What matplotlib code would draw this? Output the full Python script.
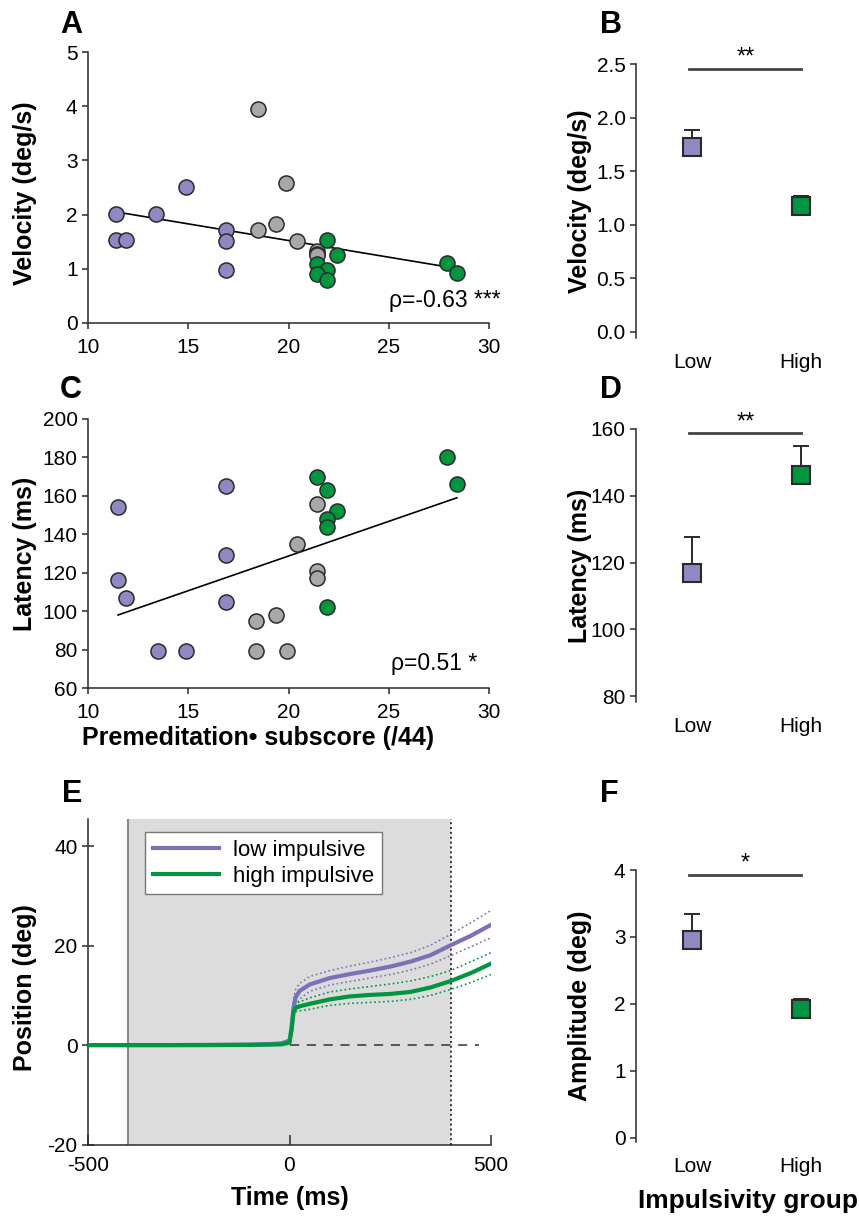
import numpy as np
import matplotlib
matplotlib.use("Agg")
import matplotlib.pyplot as plt

plt.rcParams['font.family'] = ['Liberation Sans', 'DejaVu Sans']
plt.rcParams['axes.unicode_minus'] = False

# colours
purple = '#8e88c3'
purple_line = '#7a72b8'
green = '#00963f'
grey = '#a8a8a8'
edge = '#2a2a2a'

## panel A / C scatter data (premeditation subscore vs velocity / latency)
vel_low_x = [11.4, 11.4, 11.9, 13.4, 14.9, 16.9, 16.9, 16.9]
vel_low_y = [2.02, 1.54, 1.53, 2.02, 2.51, 1.72, 1.51, 0.98]
vel_mid_x = [18.5, 19.9, 19.4, 18.5, 20.4, 21.4, 21.4, 21.4]
vel_mid_y = [3.94, 2.59, 1.83, 1.72, 1.51, 1.32, 1.27, 1.25]
vel_high_x = [21.9, 22.4, 21.4, 21.9, 21.4, 21.9, 27.9, 28.4]
vel_high_y = [1.53, 1.25, 1.08, 0.98, 0.91, 0.80, 1.10, 0.93]
vel_fit_x = [11.4, 28.0]
vel_fit_y = [2.05, 1.03]

lat_low_x = [11.5, 11.5, 11.9, 13.5, 14.9, 16.9, 16.9, 16.9]
lat_low_y = [154, 116, 107, 79, 79, 165, 129, 105]
lat_mid_x = [18.4, 18.4, 19.4, 19.95, 20.4, 21.4, 21.4, 21.4]
lat_mid_y = [95, 79, 98, 79, 135, 156, 121, 117]
lat_high_x = [21.4, 21.9, 22.4, 21.9, 21.9, 21.9, 27.9, 28.4]
lat_high_y = [170, 163, 152, 148, 144, 102, 180, 166]
lat_fit_x = [11.5, 28.4]
lat_fit_y = [98, 159]

## panel B / D / F group means (+ sem)
groups = ['Low', 'High']
vel_mean = [1.72, 1.17]
vel_sem = [0.16, 0.10]
lat_mean = [116.8, 146.1]
lat_sem = [10.9, 8.8]
amp_mean = [2.96, 1.92]
amp_sem = [0.39, 0.16]

## panel E position traces
t = [-500, -400, -300, -200, -100, -50, -20, 0, 5, 10, 15, 25, 50, 100,
     150, 200, 250, 300, 350, 400, 450, 500]
low_mean = [0, 0, 0, 0.05, 0.1, 0.2, 0.35, 0.9, 3.5, 7.5, 9.6, 10.9, 12.2,
            13.5, 14.3, 15.0, 15.8, 16.8, 18.1, 20.1, 22.0, 24.2]
low_upper = [0.1, 0.1, 0.1, 0.15, 0.2, 0.3, 0.45, 1.2, 4.5, 9.2, 11.2, 12.4,
             13.8, 15.0, 15.9, 16.7, 17.6, 18.6, 20.1, 22.3, 24.6, 27.1]
low_lower = [-0.1, -0.1, -0.1, -0.05, 0.0, 0.1, 0.2, 0.6, 2.5, 5.5, 7.8, 9.3,
             10.8, 12.1, 12.8, 13.5, 14.2, 15.1, 16.3, 18.0, 19.8, 21.6]
high_mean = [0, 0, 0, 0, 0.05, 0.1, 0.15, 0.5, 3.0, 6.6, 7.5, 7.8, 8.3, 9.2,
             9.8, 10.1, 10.3, 10.7, 11.6, 12.9, 14.5, 16.4]
high_upper = [0.1, 0.1, 0.1, 0.1, 0.15, 0.2, 0.25, 0.7, 3.8, 7.5, 8.3, 8.7,
              9.5, 10.7, 11.3, 11.8, 12.3, 12.9, 13.8, 15.0, 16.8, 18.6]
high_lower = [-0.1, -0.1, -0.1, -0.1, -0.05, 0.0, 0.05, 0.3, 2.2, 5.8, 6.7,
              6.9, 7.2, 8.0, 8.4, 8.6, 8.8, 9.2, 10.0, 11.2, 12.6, 14.2]

W, H = 859, 1216
fig = plt.figure(figsize=(W/100, H/100), dpi=100)

def px_axes(l, t_, r, b):
    return fig.add_axes([l/W, 1-b/H, (r-l)/W, (b-t_)/H])

tick_fs = 15
lab_fs = 18

def style(ax):
    for s in ['top', 'right']:
        ax.spines[s].set_visible(False)
    for s in ['left', 'bottom']:
        ax.spines[s].set_color(edge)
        ax.spines[s].set_linewidth(1.1)
    ax.tick_params(labelsize=tick_fs, width=1.1, length=4, color=edge)

# scatter panels
def scatter_panel(ax, lx, ly, mx, my, hx, hy, fx, fy):
    kw = dict(s=118, edgecolors=edge, linewidths=1.1, zorder=3)
    ax.plot(fx, fy, color='k', lw=1.2, zorder=2)
    ax.scatter(lx, ly, c=purple, **kw)
    ax.scatter(mx, my, c=grey, **kw)
    ax.scatter(hx, hy, c=green, **kw)
    ax.set_xlim(10, 30)
    ax.set_xticks([10, 15, 20, 25, 30])
    style(ax)
    ax.tick_params(axis='x', pad=7)

axA = px_axes(88, 52, 489, 323)
scatter_panel(axA, vel_low_x, vel_low_y, vel_mid_x, vel_mid_y,
              vel_high_x, vel_high_y, vel_fit_x, vel_fit_y)
axA.set_ylim(0, 5)
axA.set_yticks([0, 1, 2, 3, 4, 5])
axA.set_ylabel('Velocity (deg/s)', fontsize=lab_fs, fontweight='bold')
axA.yaxis.set_label_coords(-0.127, 0.48)
axA.text(1.03, 0.06, 'ρ=-0.63 ***', transform=axA.transAxes,
         ha='right', va='baseline', fontsize=16.5, clip_on=False)

axC = px_axes(88, 419, 489, 688)
scatter_panel(axC, lat_low_x, lat_low_y, lat_mid_x, lat_mid_y,
              lat_high_x, lat_high_y, lat_fit_x, lat_fit_y)
axC.set_ylim(60, 200)
axC.set_yticks(np.arange(60, 201, 20))
axC.set_ylabel('Latency (ms)', fontsize=lab_fs, fontweight='bold')
axC.yaxis.set_label_coords(-0.127, 0.5)
axC.set_xlabel('Premeditation• subscore (/44)', fontsize=lab_fs,
               fontweight='bold')
axC.xaxis.set_label_coords(0.424, -0.14)
axC.text(0.97, 0.067, 'ρ=0.51 *', transform=axC.transAxes,
         ha='right', va='baseline', fontsize=16.5)

# group panels
def group_panel(ax, mean, sem, ylim, yticks, fmt, sig_y, stars):
    x = [1, 2]
    ax.errorbar(x, mean, yerr=[[0, 0], sem], fmt='none', ecolor=edge,
                elinewidth=1.4, capsize=6, capthick=1.4, zorder=2)
    ax.plot(x[0], mean[0], 's', ms=12.5, mfc=purple, mec=edge, mew=1.5, zorder=3)
    ax.plot(x[1], mean[1], 's', ms=12.5, mfc=green, mec=edge, mew=1.5, zorder=3)
    ax.plot([0.97, 2.0], [sig_y, sig_y], color='#444444', lw=2, zorder=2)
    ax.text(1.49, sig_y, stars, ha='center', va='bottom', fontsize=17)
    ax.set_xlim(0.486, 2.45)
    ax.set_ylim(*ylim)
    ax.set_yticks(yticks)
    ax.set_yticklabels([fmt.format(v) for v in yticks])
    ax.set_xticks(x)
    ax.set_xticklabels(groups)
    style(ax)
    ax.spines['bottom'].set_visible(False)
    ax.tick_params(axis='x', length=0, pad=11)

axB = px_axes(636, 64, 850, 338)
group_panel(axB, vel_mean, vel_sem, (-0.06, 2.5), [0, 0.5, 1, 1.5, 2, 2.5],
            '{:.1f}', 2.456, '**')
axB.set_ylabel('Velocity (deg/s)', fontsize=lab_fs, fontweight='bold')
axB.yaxis.set_label_coords(-0.206, 0.5)

axD = px_axes(636, 429, 850, 702)
group_panel(axD, lat_mean, lat_sem, (78.3, 160), [80, 100, 120, 140, 160],
            '{:.0f}', 158.7, '**')
axD.set_ylabel('Latency (ms)', fontsize=lab_fs, fontweight='bold')
axD.yaxis.set_label_coords(-0.206, 0.5)

axF = px_axes(636, 870, 850, 1142)
group_panel(axF, amp_mean, amp_sem, (-0.06, 4), [0, 1, 2, 3, 4],
            '{:.0f}', 3.93, '*')
axF.set_ylabel('Amplitude (deg)', fontsize=lab_fs, fontweight='bold')
axF.yaxis.set_label_coords(-0.206, 0.5)

# panel E
axE = px_axes(88, 819, 491, 1144.5)
axE.axvspan(-400, 400, color='#dcdcdc', zorder=0, lw=0)
axE.axvline(-400, color='#8a8a8a', lw=1.5, zorder=1)
axE.axvline(400, color='#333333', lw=1.4, ls=(0, (1, 1.5)), zorder=1)
axE.plot([0, 470], [0, 0], color='#333333', lw=1.1, ls=(0, (6, 5)), zorder=1)
axE.plot(t, low_upper, color=purple_line, lw=1.2, ls=':', zorder=2)
axE.plot(t, low_lower, color=purple_line, lw=1.2, ls=':', zorder=2)
axE.plot(t, high_upper, color=green, lw=1.2, ls=':', zorder=2)
axE.plot(t, high_lower, color=green, lw=1.2, ls=':', zorder=2)
axE.plot(t, low_mean, color=purple_line, lw=3, label='low impulsive', zorder=3)
axE.plot(t, high_mean, color=green, lw=3, label='high impulsive', zorder=3)
axE.set_xlim(-500, 500)
axE.set_ylim(-20, 45.5)
axE.set_xticks([-500, 0, 500])
axE.set_yticks([-20, 0, 20, 40])
style(axE)
axE.tick_params(axis='x', direction='in', length=7, pad=8)
axE.tick_params(axis='y', direction='inout', length=8)
leg = axE.legend(loc='upper left', bbox_to_anchor=(0.141, 0.959),
                 borderaxespad=0, fontsize=16, handlelength=3,
                 fancybox=False, framealpha=1, edgecolor='#777777',
                 borderpad=0.35, labelspacing=0.2, handletextpad=0.6)
leg.get_frame().set_linewidth(1)
axE.set_ylabel('Position (deg)', fontsize=lab_fs, fontweight='bold')
axE.yaxis.set_label_coords(-0.127, 0.483)
axE.set_xlabel('Time (ms)', fontsize=lab_fs, fontweight='bold')
axE.xaxis.set_label_coords(0.5, -0.128)

fig.text(638/W, 1-1208/H, 'Impulsivity group', fontsize=19,
         fontweight='bold', ha='left', va='baseline')

# panel letters
for letter, x, y in [('A', 60, 33), ('B', 600, 33), ('C', 60, 398),
                     ('D', 600, 398), ('E', 62, 802), ('F', 600, 802)]:
    fig.text(x/W, 1-y/H, letter, fontsize=22, fontweight='bold',
             ha='left', va='baseline')

fig.savefig('out.png', dpi=100)
